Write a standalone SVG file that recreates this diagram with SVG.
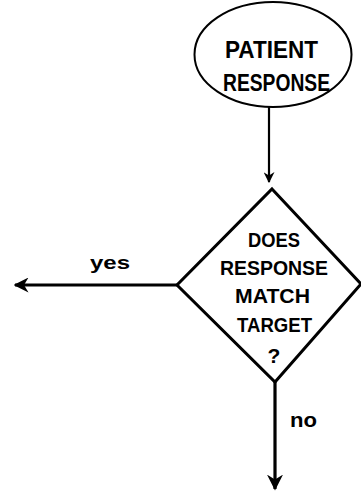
<svg xmlns="http://www.w3.org/2000/svg" width="361" height="492" viewBox="0 0 361 492">
<style>
.shape{fill:#fff;stroke:#000}
.lbl{font-family:"Liberation Sans",Arial,sans-serif;font-weight:bold;fill:#000;text-anchor:middle}
.conn{fill:none;stroke:#000}
</style>
<defs>
<marker id="ah" viewBox="0 0 10 10" refX="9" refY="5" markerWidth="5" markerHeight="5" orient="auto" markerUnits="strokeWidth">
<path d="M0,0 L10,5 L0,10 L3,5 Z" fill="#000"/>
</marker>
</defs>
<rect width="361" height="492" fill="#fff"/>
<g id="connectors">
<line class="conn" x1="269" y1="107" x2="269" y2="182" stroke-width="2.2" marker-end="url(#ah)"/>
<line class="conn" x1="177" y1="285" x2="15" y2="285" stroke-width="3" marker-end="url(#ah)"/>
<line class="conn" x1="275" y1="382" x2="275" y2="489" stroke-width="3.2" marker-end="url(#ah)"/>
</g>
<g id="patient-response">
<ellipse class="shape" cx="273" cy="54.5" rx="78.5" ry="52.5" stroke-width="2"/>
<text class="lbl" x="271.5" y="58" font-size="23" textLength="93" lengthAdjust="spacingAndGlyphs">PATIENT</text>
<text class="lbl" x="276.5" y="91" font-size="23" textLength="107" lengthAdjust="spacingAndGlyphs">RESPONSE</text>
</g>
<g id="decision">
<polygon class="shape" points="272,189 361,284 275,382 177,285" stroke-width="3"/>
<text class="lbl" x="274" y="247" font-size="21" textLength="52" lengthAdjust="spacingAndGlyphs">DOES</text>
<text class="lbl" x="274" y="275" font-size="21" textLength="108" lengthAdjust="spacingAndGlyphs">RESPONSE</text>
<text class="lbl" x="272.5" y="303" font-size="21" textLength="75" lengthAdjust="spacingAndGlyphs">MATCH</text>
<text class="lbl" x="274.5" y="332" font-size="21" textLength="75" lengthAdjust="spacingAndGlyphs">TARGET</text>
<text class="lbl" x="274" y="363" font-size="21">?</text>
</g>
<g id="labels">
<text class="lbl" x="110" y="269" font-size="19" textLength="40" lengthAdjust="spacingAndGlyphs">yes</text>
<text class="lbl" x="303.5" y="427" font-size="20" textLength="27" lengthAdjust="spacingAndGlyphs">no</text>
</g>
</svg>
